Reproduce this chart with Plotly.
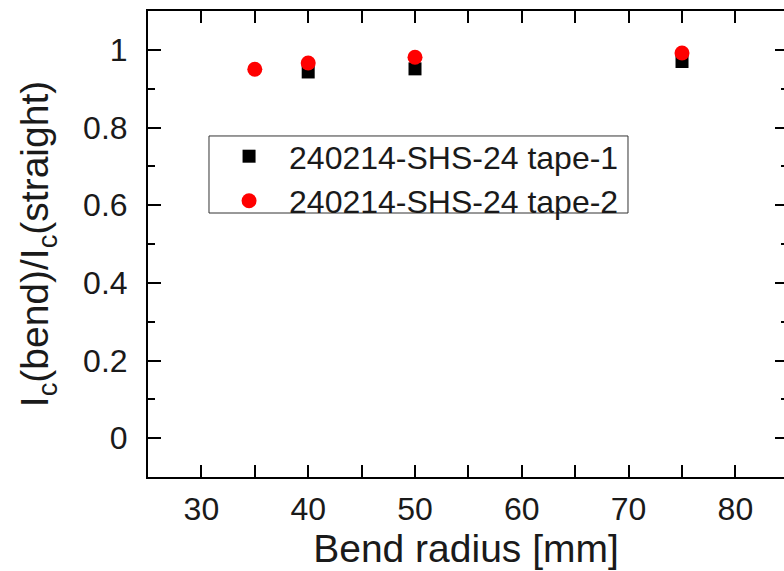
import plotly.graph_objects as go

# Data
radius_tape1 = [40, 50, 75]
ratio_tape1 = [0.943, 0.951, 0.970]
radius_tape2 = [35, 40, 50, 75]
ratio_tape2 = [0.950, 0.966, 0.981, 0.992]

name_tape1 = "240214-SHS-24 tape-1"
name_tape2 = "240214-SHS-24 tape-2"

x_ticks = [30, 40, 50, 60, 70, 80]
y_ticks = [0, 0.2, 0.4, 0.6, 0.8, 1]
y_tick_text = ["0", "0.2", "0.4", "0.6", "0.8", "1"]

FONT = "Arial, Liberation Sans, sans-serif"
TXT = "#1a1a1a"

fig = go.Figure()
fig.add_trace(go.Scatter(
    x=radius_tape1, y=ratio_tape1, mode="markers", name=name_tape1,
    marker=dict(symbol="square", size=13, color="black"),
))
fig.add_trace(go.Scatter(
    x=radius_tape2, y=ratio_tape2, mode="markers", name=name_tape2,
    marker=dict(symbol="circle", size=15, color="red"),
))
# empty trace to activate the right-side tick axis
fig.add_trace(go.Scatter(x=[None], y=[None], yaxis="y2", showlegend=False, hoverinfo="skip"))

# legend frame (tighter than plotly's own legend border)
fig.add_shape(type="rect", xref="paper", yref="paper",
              x0=0.0959, x1=0.7547, y0=0.5665, y1=0.7318,
              line=dict(color="#333333", width=1), fillcolor="rgba(0,0,0,0)", layer="below")

fig.update_layout(
    width=784, height=571,
    margin=dict(l=148, r=0, t=11, b=94),
    paper_bgcolor="white", plot_bgcolor="white",
    font=dict(family=FONT, color=TXT),
    showlegend=True,
    legend=dict(
        x=0.096, y=0.747, xanchor="left", yanchor="top",
        borderwidth=0, bgcolor="rgba(0,0,0,0)",
        font=dict(size=32, family=FONT, color=TXT),
        itemwidth=70, tracegroupgap=0,
    ),
    xaxis=dict(
        range=[25, 84.55], tickmode="array", tickvals=x_ticks,
        ticks="inside", ticklen=12, tickwidth=2, tickcolor="black",
        showline=True, linecolor="black", linewidth=2, mirror="allticks",
        showgrid=False, zeroline=False,
        tickfont=dict(size=32, family=FONT, color=TXT),
        minor=dict(dtick=5, tick0=0, ticks="inside", ticklen=7, tickwidth=2, tickcolor="black", showgrid=False),
        title=dict(text="Bend radius [mm]", font=dict(size=39, family=FONT, color=TXT), standoff=6),
        ticklabelstandoff=3,
    ),
    yaxis=dict(
        range=[-0.1, 1.1], tickmode="array", tickvals=y_ticks, ticktext=y_tick_text,
        ticks="inside", ticklen=13, tickwidth=2, tickcolor="black",
        showline=True, linecolor="black", linewidth=2, mirror=False,
        showgrid=False, zeroline=False,
        tickfont=dict(size=32, family=FONT, color=TXT),
        minor=dict(dtick=0.1, tick0=0, ticks="inside", ticklen=7, tickwidth=2, tickcolor="black", showgrid=False),
        title=dict(text="I<sub>c</sub>(bend)/I<sub>c</sub>(straight)", font=dict(size=39, family=FONT, color=TXT), standoff=22),
        ticklabelstandoff=12,
    ),
    yaxis2=dict(
        range=[-0.1, 1.1], overlaying="y", side="right", tickmode="array", tickvals=y_ticks,
        ticks="inside", ticklen=9, tickwidth=2, tickcolor="black",
        showline=False, showgrid=False, zeroline=False, showticklabels=False,
        minor=dict(dtick=0.1, tick0=0, ticks="inside", ticklen=3, tickwidth=2, tickcolor="black", showgrid=False),
    ),
)

fig.write_html("out.html")
